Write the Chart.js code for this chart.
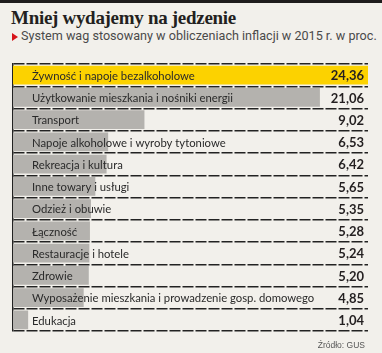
<!DOCTYPE html>
<html lang="pl">
<head>
  <meta charset="UTF-8" />
  <title>Mniej wydajemy na jedzenie</title>
  <script src="https://cdn.jsdelivr.net/npm/chart.js"></script>
  <style>
    html, body { margin: 0; padding: 0; }
    body { width: 382px; height: 353px; background: #f2f0eb; position: relative; overflow: hidden; }
    .topbar { position: absolute; left: 0; top: 0; width: 382px; height: 3px; background: #1e1c1c; }
    h1 { position: absolute; left: 11px; top: 7px; margin: 0; font: bold 19px "Liberation Serif", serif; color: #231f20; letter-spacing: -0.3px; white-space: nowrap; }
    .sub { position: absolute; left: 21px; top: 28px; margin: 0; font: 12.6px Roboto, sans-serif; color: #4a4a4a; white-space: nowrap; }
    .tri { position: absolute; left: 12px; top: 33px; width: 0; height: 0; border-top: 4px solid transparent; border-bottom: 4px solid transparent; border-left: 6px solid #d7141a; }
    .src { position: absolute; right: 17px; top: 340px; font: 8.5px "Liberation Sans Narrow", "Liberation Sans", sans-serif; color: #555; }
    #wrap { position: absolute; left: 0; top: 0; width: 382px; height: 353px; }
  </style>
</head>
<body>
<div class="topbar"></div>
<h1>Mniej wydajemy na jedzenie</h1>
<div class="tri"></div>
<p class="sub">System wag stosowany w obliczeniach inflacji w 2015 r. w proc.</p>
<div id="wrap"><canvas id="chart"></canvas></div>
<div class="src">Źródło: GUS</div>

<script>
  // kategorie i wagi (proc.)
  const categories = [
    'Żywność i napoje bezalkoholowe',
    'Użytkowanie mieszkania i nośniki energii',
    'Transport',
    'Napoje alkoholowe i wyroby tytoniowe',
    'Rekreacja i kultura',
    'Inne towary i usługi',
    'Odzież i obuwie',
    'Łączność',
    'Restauracje i hotele',
    'Zdrowie',
    'Wyposażenie mieszkania i prowadzenie gosp. domowego',
    'Edukacja'
  ];
  const weights = [24.36, 21.06, 9.02, 6.53, 6.42, 5.65, 5.35, 5.28, 5.24, 5.20, 4.85, 1.04];
  const valueLabels = ['24,36', '21,06', '9,02', '6,53', '6,42', '5,65', '5,35', '5,28', '5,24', '5,20', '4,85', '1,04'];

  const barColors = weights.map((v, i) => i === 0 ? '#fcd200' : '#b4b2ae');

  // napisy w wierszach: nazwa przy lewej, wartość przy prawej krawędzi
  const rowLabels = {
    id: 'rowLabels',
    afterDatasetsDraw(chart) {
      const ctx = chart.ctx;
      const area = chart.chartArea;
      const y = chart.scales.y;
      ctx.save();
      ctx.textBaseline = 'middle';
      categories.forEach((name, i) => {
        const py = y.getPixelForValue(i) + 1;
        ctx.font = '11.3px Lato, sans-serif';
        ctx.fillStyle = '#2a2a2a';
        ctx.textAlign = 'left';
        ctx.fillText(name, area.left + 19, py);
        ctx.font = 'bold 13px Lato, sans-serif';
        ctx.fillStyle = '#231f20';
        ctx.textAlign = 'right';
        ctx.fillText(valueLabels[i], area.right - 4, py);
      });
      ctx.restore();
    }
  };

  new Chart(document.getElementById('chart'), {
    type: 'bar',
    data: {
      labels: categories,
      datasets: [{
        data: weights,
        backgroundColor: barColors,
        borderWidth: 0,
        barPercentage: 0.84,
        categoryPercentage: 1
      }]
    },
    options: {
      indexAxis: 'y',
      responsive: true,
      maintainAspectRatio: false,
      animation: false,
      layout: { padding: { left: 13, right: 14, top: 64, bottom: 22 } },
      plugins: { legend: { display: false }, tooltip: { enabled: false } },
      scales: {
        x: { display: false, min: 0, max: Math.max(...weights) },
        y: {
          ticks: { display: false },
          grid: { offset: true, drawTicks: false, color: '#222', lineWidth: 1.5 },
          border: { display: true, color: '#222', width: 1.5, dash: [11, 2] }
        }
      }
    },
    plugins: [rowLabels]
  });
</script>
</body>
</html>
